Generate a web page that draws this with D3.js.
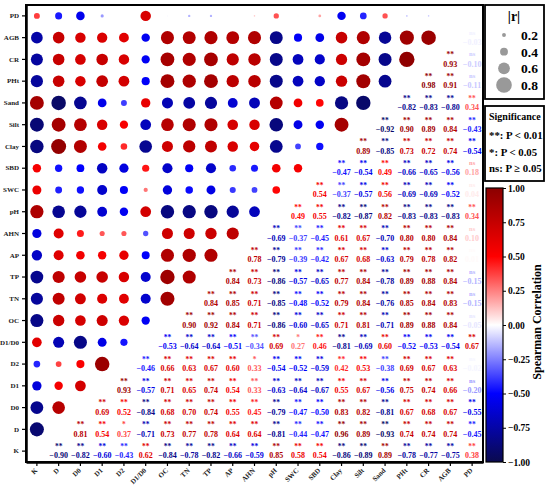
<!DOCTYPE html>
<html>
<head>
<meta charset="utf-8">
<script src="https://cdn.jsdelivr.net/npm/d3@7"></script>
<style>
  body { margin: 0; background: #fff; }
  text { font-family: "Liberation Serif", "Times New Roman", serif; font-weight: bold; }
</style>
</head>
<body>
<div id="vis-container"></div>
<script>
// variables, top to bottom on the y axis (x axis runs the other way)
let vars = ["PD","AGB","CR","PHt","Sand","Silt","Clay","SBD","SWC","pH","AHN",
  "AP","TP","TN","OC","D1/D0","D2","D1","D0","D","K"];

// lower-triangle rows, values read left to right
let rAGB  = [-0.03];
let rCR   = [0.93, -0.10];
let rPHt  = [0.98, 0.91, -0.11];
let rSand = [-0.82, -0.83, -0.80, 0.34];
let rSilt = [-0.92, 0.90, 0.89, 0.84, -0.43];
let rClay = [0.89, -0.85, 0.73, 0.72, 0.74, -0.54];
let rSBD  = [-0.47, -0.54, 0.49, -0.66, -0.65, -0.56, 0.18];
let rSWC  = [0.54, -0.37, -0.57, 0.56, -0.69, -0.69, -0.52, 0.04];
let rpH   = [0.49, 0.55, -0.82, -0.87, 0.82, -0.83, -0.83, -0.83, 0.34];
let rAHN  = [-0.69, -0.37, -0.45, 0.61, 0.67, -0.70, 0.80, 0.80, 0.84, 0.10];
let rAP   = [0.78, -0.79, -0.39, -0.42, 0.67, 0.68, -0.63, 0.79, 0.78, 0.82, 0.01];
let rTP   = [0.84, 0.73, -0.86, -0.57, -0.65, 0.77, 0.84, -0.78, 0.89, 0.88, 0.84, -0.15];
let rTN   = [0.84, 0.85, 0.71, -0.85, -0.48, -0.52, 0.79, 0.84, -0.76, 0.85, 0.84, 0.83, -0.15];
let rOC   = [0.90, 0.92, 0.84, 0.71, -0.86, -0.60, -0.65, 0.71, 0.81, -0.71, 0.89, 0.88, 0.84, -0.05];
let rD1D0 = [-0.53, -0.64, -0.64, -0.51, -0.34, 0.69, 0.27, 0.46, -0.81, -0.69, 0.60, -0.52, -0.53, -0.54, 0.67];
let rD2   = [-0.46, 0.66, 0.63, 0.67, 0.60, 0.33, -0.54, -0.52, -0.59, 0.42, 0.53, -0.38, 0.69, 0.67, 0.63, -0.02];
let rD1   = [0.93, -0.57, 0.71, 0.65, 0.74, 0.54, 0.33, -0.63, -0.64, -0.67, 0.55, 0.67, -0.56, 0.75, 0.74, 0.66, -0.20];
let rD0   = [0.69, 0.52, -0.84, 0.68, 0.70, 0.74, 0.55, 0.45, -0.79, -0.47, -0.50, 0.83, 0.82, -0.81, 0.67, 0.68, 0.67, -0.55];
let rD    = [0.81, 0.54, 0.37, -0.71, 0.73, 0.77, 0.78, 0.64, 0.64, -0.81, -0.44, -0.47, 0.96, 0.89, -0.93, 0.74, 0.74, 0.74, -0.45];
let rK    = [-0.90, -0.82, -0.60, -0.43, 0.62, -0.84, -0.78, -0.82, -0.66, -0.59, 0.85, 0.58, 0.54, -0.86, -0.89, 0.89, -0.78, -0.77, -0.75, 0.38];

let rows = [null, rAGB, rCR, rPHt, rSand, rSilt, rClay, rSBD, rSWC, rpH, rAHN,
  rAP, rTP, rTN, rOC, rD1D0, rD2, rD1, rD0, rD, rK];

// significance: "**" unless listed here
let oneStar = [["D1/D0","SWC"], ["D2","AHN"], ["D","D2"]];
let nsPairs = [["AGB","PD"],["CR","PD"],["PHt","PD"],["SBD","PD"],["SWC","PD"],["AHN","PD"],
  ["AP","PD"],["TP","PD"],["TN","PD"],["OC","PD"],["D2","PD"],["D1","PD"]];

let legendVals = [0.2, 0.4, 0.6, 0.8];
let sigLabels = ["**: P < 0.01", "*: P < 0.05", "ns: P \u2265 0.05"];
let cbTicks = [-1, -0.75, -0.5, -0.25, 0, 0.25, 0.5, 0.75, 1];

let w = 550;
let h = 485;

let svg = d3.select("#vis-container")
  .append("svg")
  .attr("width", w)
  .attr("height", h);

let cols = vars.slice().reverse();

let x = d3.scaleBand().domain(cols).range([26, 483]);
let y = d3.scaleBand().domain(vars).range([5, 462]);

let color = d3.scaleLinear()
  .domain([-1, -0.5, 0, 0.5, 1])
  .range(["#0a0a4e", "#0000ff", "#ffffff", "#ff0000", "#8b0000"]);

let rad = d3.scaleLinear().domain([0, 1]).range([0, 7.8]);
let legR = d3.scaleLinear().domain([0, 1]).range([0, 9.8]);

function sigOf(a, b){
  let hit = list => list.some(p => (p[0] === a && p[1] === b) || (p[0] === b && p[1] === a));
  if(hit(nsPairs)) return "ns";
  if(hit(oneStar)) return "*";
  return "**";
}

// build pairs
let pairs = [];
for(let i = 1; i < vars.length; i++){
  rows[i].forEach((v, k) => {
    pairs.push({a: vars[i], b: vars[i - 1 - k], v: v, sig: sigOf(vars[i], vars[i - 1 - k])});
  });
}

// circles, upper-left half
svg.selectAll("circle.cell")
  .data(pairs)
  .enter()
  .append("circle")
  .attr("class", "cell")
  .attr("cx", d => x(d.a) + x.bandwidth() / 2)
  .attr("cy", d => y(d.b) + y.bandwidth() / 2)
  .attr("r", d => rad(Math.abs(d.v)))
  .attr("fill", d => color(d.v));

// numbers, lower-right half
let lab = svg.selectAll("g.num")
  .data(pairs)
  .enter()
  .append("g")
  .attr("class", "num")
  .attr("transform", d => `translate(${x(d.b) + x.bandwidth() / 2},${y(d.a) + y.bandwidth() / 2})`);

lab.append("text")
  .attr("text-anchor", "middle")
  .attr("y", d => d.sig === "ns" ? -3 : -2.2)
  .attr("font-size", d => d.sig === "ns" ? 6.5 : 7.5)
  .attr("fill", d => color(d.v))
  .text(d => d.sig);

lab.append("text")
  .attr("text-anchor", "middle")
  .attr("y", 7.2)
  .attr("font-size", 8)
  .attr("fill", d => color(d.v))
  .text(d => d3.format(".2f")(d.v));

// frame and axes
svg.append("rect")
  .attr("x", 26).attr("y", 5)
  .attr("width", 457).attr("height", 457)
  .attr("fill", "none")
  .attr("stroke", "#000")
  .attr("stroke-width", 2);

let yAxis = svg.append("g")
  .attr("transform", "translate(26,0)")
  .call(d3.axisLeft(y).tickSize(4).tickSizeOuter(0));
yAxis.select(".domain").attr("stroke-width", 2.5);
yAxis.selectAll("line").attr("stroke-width", 1.2);
yAxis.selectAll("text")
  .attr("font-size", 7)
  .attr("font-family", "Liberation Serif")
  .attr("font-weight", "bold")
  .attr("fill", "#222");

let xAxis = svg.append("g")
  .attr("transform", "translate(0,462)")
  .call(d3.axisBottom(x).tickSize(4).tickSizeOuter(0));
xAxis.select(".domain").attr("stroke-width", 2.5);
xAxis.selectAll("line").attr("stroke-width", 1.2);
xAxis.selectAll("text")
  .attr("font-size", 7)
  .attr("font-family", "Liberation Serif")
  .attr("font-weight", "bold")
  .attr("fill", "#222")
  .attr("text-anchor", "end")
  .attr("dy", null)
  .attr("y", 0)
  .attr("transform", "translate(1,9) rotate(-45)");

// size legend
svg.append("rect")
  .attr("x", 485).attr("y", 5).attr("width", 59).attr("height", 94)
  .attr("fill", "none").attr("stroke", "#000").attr("stroke-width", 1.8);
svg.append("text")
  .attr("x", 514).attr("y", 21)
  .attr("text-anchor", "middle")
  .attr("font-size", 14)
  .text("|r|");
let ly = d3.scalePoint().domain(legendVals).range([35, 85]);
svg.selectAll("circle.leg")
  .data(legendVals)
  .enter()
  .append("circle")
  .attr("class", "leg")
  .attr("cx", 504)
  .attr("cy", d => ly(d))
  .attr("r", d => legR(d))
  .attr("fill", "#999");
svg.selectAll("text.leg")
  .data(legendVals)
  .enter()
  .append("text")
  .attr("class", "leg")
  .attr("x", 521)
  .attr("y", d => ly(d) + 5)
  .attr("font-size", 13.5)
  .text(d => d3.format(".1f")(d));

// significance legend
svg.append("rect")
  .attr("x", 485).attr("y", 106).attr("width", 59).attr("height", 75)
  .attr("fill", "none").attr("stroke", "#000").attr("stroke-width", 1.8);
svg.append("text")
  .attr("x", 489).attr("y", 120)
  .attr("font-size", 10)
  .text("Significance");
svg.selectAll("text.sig")
  .data(sigLabels)
  .enter()
  .append("text")
  .attr("class", "sig")
  .attr("x", 489)
  .attr("y", (d, i) => 139 + i * 16.5)
  .attr("font-size", 10.8)
  .text(d => d);

// colour bar
let cb = d3.scaleLinear().domain([-1, 1]).range([462, 188]);
let grad = svg.append("defs").append("linearGradient")
  .attr("id", "cbar")
  .attr("x1", 0).attr("y1", 1).attr("x2", 0).attr("y2", 0);
grad.selectAll("stop")
  .data(d3.range(-1, 1.001, 0.05))
  .enter()
  .append("stop")
  .attr("offset", d => (d + 1) / 2)
  .attr("stop-color", d => color(d));

svg.append("rect")
  .attr("x", 486).attr("y", 188).attr("width", 17).attr("height", 274)
  .attr("fill", "url(#cbar)")
  .attr("stroke", "#000").attr("stroke-width", 1.2);

let cAxis = svg.append("g")
  .attr("transform", "translate(503,0)")
  .call(d3.axisRight(cb).tickValues(cbTicks).tickFormat(d3.format(".2f")).tickSize(3));
cAxis.select(".domain").remove();
cAxis.selectAll("text")
  .attr("font-size", 9.5)
  .attr("font-family", "Liberation Serif")
  .attr("font-weight", "bold")
  .attr("x", 5);

svg.append("text")
  .attr("transform", "translate(541,322) rotate(-90)")
  .attr("text-anchor", "middle")
  .attr("font-size", 12)
  .text("Spearman Correlation");
</script>
</body>
</html>
